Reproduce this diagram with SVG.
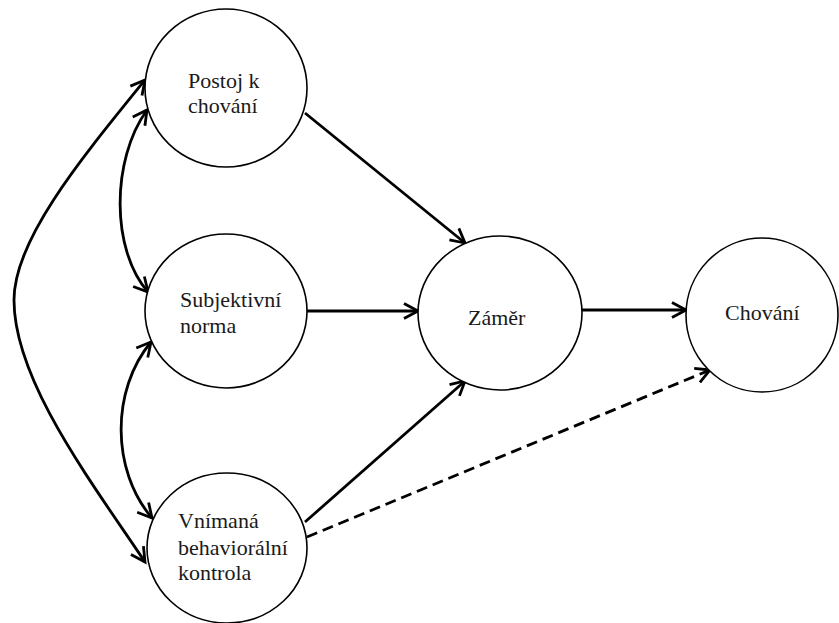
<svg xmlns="http://www.w3.org/2000/svg" width="839" height="623" viewBox="0 0 839 623">
<style>
.node{fill:#fff;stroke:#000;stroke-width:1.6}
.lbl{font-family:"Liberation Serif","Times New Roman",serif;font-size:22px;fill:#1a1a1a}
.edge{fill:none;stroke:#000;stroke-width:2.8}
.dash{stroke-dasharray:11 6}
</style>
<defs>
<marker id="arr" markerUnits="userSpaceOnUse" markerWidth="22" markerHeight="22" refX="0" refY="0" viewBox="-17 -11 22 22" orient="auto-start-reverse">
<path d="M-14,-7.5 L0,0 L-14,7.5" fill="none" stroke="#000" stroke-width="2.8"/>
</marker>
</defs>
<rect width="839" height="623" fill="#fff"/>
<g id="connectors">
<path class="edge" d="M305,113 L465,243" marker-end="url(#arr)"/>
<path class="edge" d="M307,311 L418,311" marker-end="url(#arr)"/>
<path class="edge" d="M305,522 L465,381" marker-end="url(#arr)"/>
<path class="edge" d="M582,310 L686,310" marker-end="url(#arr)"/>
<path class="edge dash" d="M307,537 L710,370" marker-end="url(#arr)"/>
<path class="edge" d="M147,110 C111,160 111,250 148,292" marker-start="url(#arr)" marker-end="url(#arr)"/>
<path class="edge" d="M151,342 C111,390 111,470 152,518" marker-start="url(#arr)" marker-end="url(#arr)"/>
<path class="edge" d="M145,80 C80,160 14,240 14,300 C14,380 90,480 145,562" marker-start="url(#arr)" marker-end="url(#arr)"/>
</g>
<g id="postoj">
<ellipse class="node" cx="226" cy="88" rx="81" ry="79"/>
<text class="lbl" x="188" y="88">Postoj k</text>
<text class="lbl" x="188" y="113">chování</text>
</g>
<g id="norma">
<ellipse class="node" cx="226" cy="311" rx="81" ry="77"/>
<text class="lbl" x="180" y="307">Subjektivní</text>
<text class="lbl" x="180" y="333">norma</text>
</g>
<g id="kontrola">
<ellipse class="node" cx="227" cy="548" rx="80" ry="75"/>
<text class="lbl" x="178" y="528">Vnímaná</text>
<text class="lbl" x="178" y="555">behaviorální</text>
<text class="lbl" x="178" y="580">kontrola</text>
</g>
<g id="zamer">
<ellipse class="node" cx="500" cy="313" rx="82" ry="77"/>
<text class="lbl" x="468" y="325">Záměr</text>
</g>
<g id="chovani">
<ellipse class="node" cx="762" cy="315" rx="76" ry="77"/>
<text class="lbl" x="725" y="320">Chování</text>
</g>
</svg>
